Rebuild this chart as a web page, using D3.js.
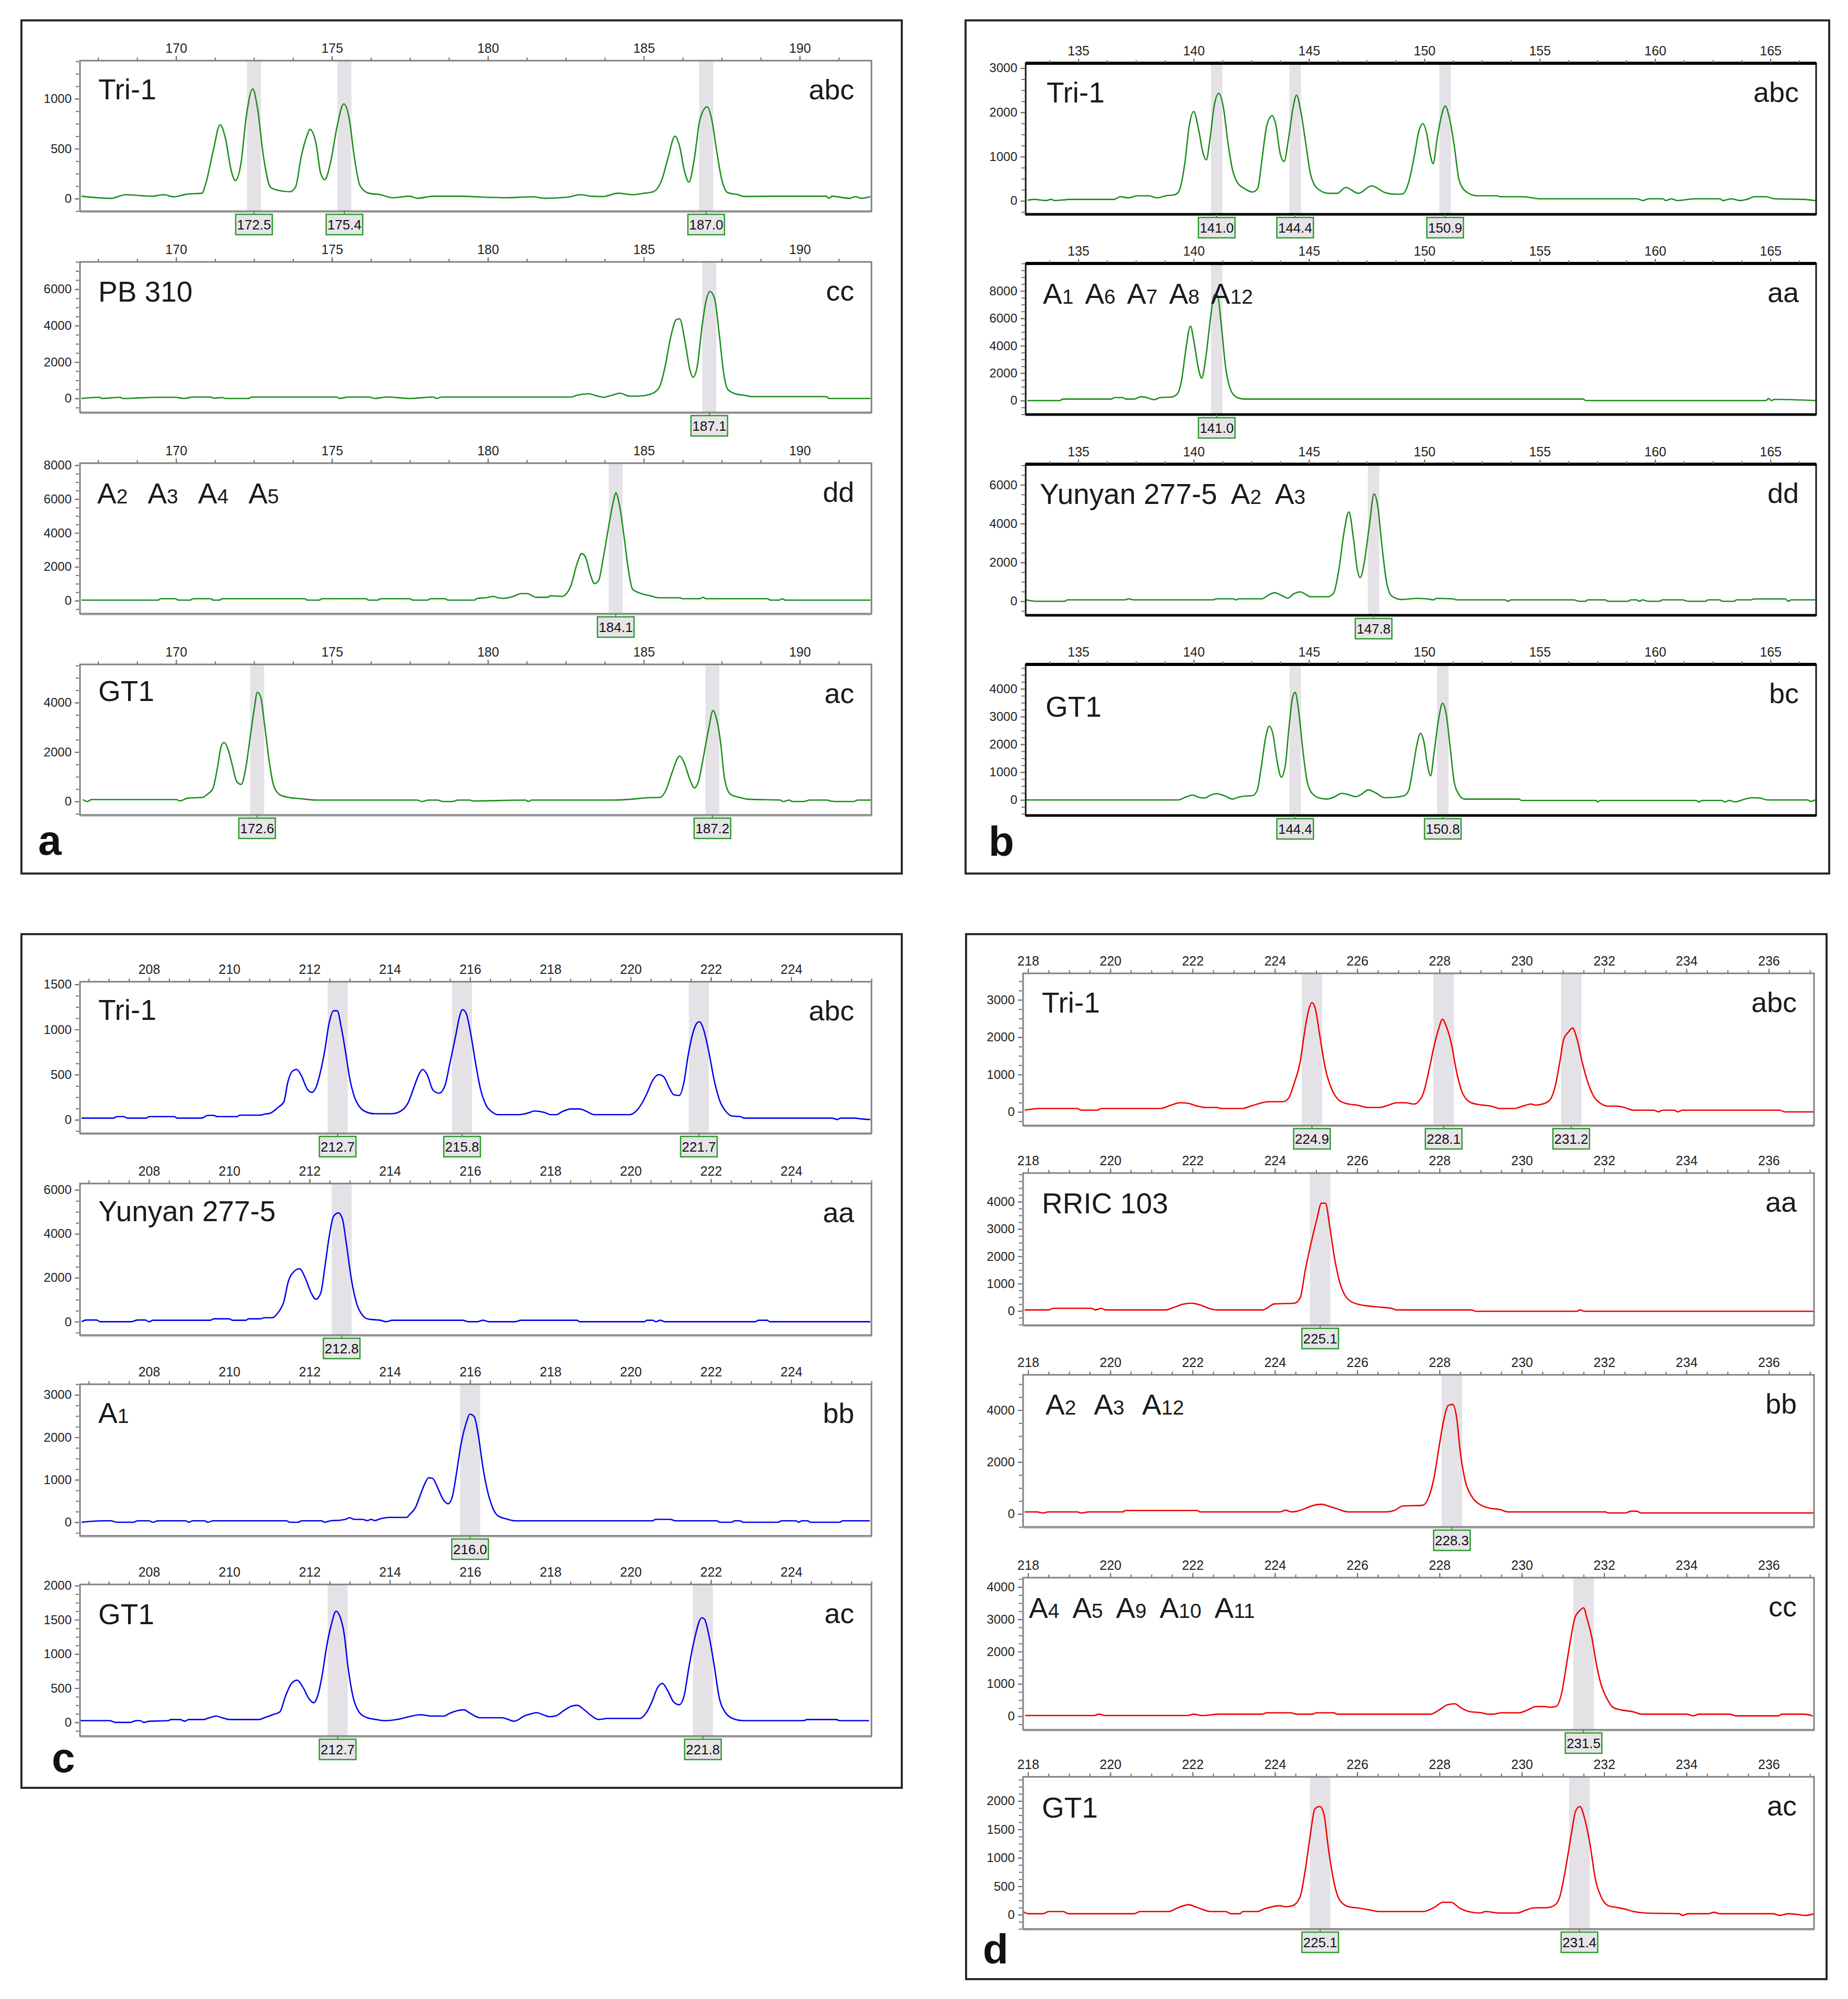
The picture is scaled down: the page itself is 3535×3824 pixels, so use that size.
<!DOCTYPE html>
<html>
<head>
<meta charset="utf-8">
<script src="https://cdn.jsdelivr.net/npm/d3@7"></script>
<style>
  body { margin: 0; background: #fff; }
  text { font-family: "Liberation Sans", Arial, sans-serif; }
</style>
</head>
<body>
<div id="chart"></div>
<script>
// ---------- data: size (bp) / RFU ----------

// panel a
var aSizeTicks = [170, 175, 180, 185, 190];
var aSamples = ["Tri-1", "PB 310", "A2 A3 A4 A5", "GT1"];
var aGenotypes = ["abc", "cc", "dd", "ac"];
var aCalls = [[172.5, 175.4, 187.0], [187.1], [184.1], [172.6, 187.2]];
var aRfuMax = [1000, 6000, 8000, 4000];
var aRfuStep = [500, 2000, 2000, 2000];

var traceA1 = [[166.97,24],[167.91,3],[168.38,39],[169.23,24],[169.61,39],[169.92,18],[170.36,45],[170.83,54],[170.96,159],[171.20,490],[171.41,739],[171.58,610],[171.77,280],[171.90,180],[172.09,370],[172.24,790],[172.46,1099],[172.61,910],[172.80,430],[173.03,114],[173.27,84],[173.65,69],[173.83,114],[174.02,430],[174.21,640],[174.29,694],[174.49,550],[174.64,250],[174.77,190],[174.96,370],[175.15,700],[175.38,949],[175.56,790],[175.71,430],[175.90,130],[176.18,54],[176.56,39],[176.94,9],[177.50,24],[177.73,3],[178.25,24],[179.00,24],[180.51,9],[181.45,18],[181.82,3],[182.58,15],[182.95,39],[183.33,24],[183.70,21],[184.17,54],[184.64,39],[185.02,54],[185.30,69],[185.58,190],[185.77,400],[186.00,625],[186.15,520],[186.30,280],[186.45,165],[186.62,400],[186.80,790],[187.03,919],[187.18,790],[187.33,490],[187.50,190],[187.69,60],[188.03,39],[188.21,21],[189.34,24],[190.85,24],[190.94,3],[191.03,24],[191.60,3],[191.79,21],[191.97,3],[192.27,21]];
var traceA2 = [[166.97,0],[167.54,65],[167.63,0],[168.20,65],[168.29,0],[169.42,65],[169.98,65],[170.26,0],[170.55,80],[171.11,80],[171.20,15],[171.48,50],[171.58,0],[172.33,0],[172.42,80],[175.15,80],[175.24,0],[175.53,80],[176.18,80],[176.37,0],[176.75,80],[177.50,0],[178.25,80],[178.35,0],[178.53,80],[182.67,80],[182.86,180],[183.23,260],[183.52,130],[183.70,65],[183.98,180],[184.23,290],[184.55,130],[184.83,130],[185.21,230],[185.49,590],[185.68,1730],[185.86,3360],[186.05,4340],[186.15,4370],[186.33,3030],[186.48,1560],[186.58,1160],[186.71,1730],[186.86,3850],[186.99,5310],[187.12,5880],[187.27,5480],[187.42,3520],[187.56,1400],[187.69,505],[187.93,260],[188.21,180],[188.50,100],[190.85,100],[190.94,0],[192.27,0]];
var traceA3 = [[166.97,34],[169.42,34],[169.51,118],[169.98,118],[170.08,34],[170.45,34],[170.55,118],[171.11,118],[171.20,34],[171.39,34],[171.48,118],[174.12,118],[174.21,34],[174.59,34],[174.68,118],[176.09,118],[176.18,34],[176.47,34],[176.56,118],[177.50,118],[177.59,34],[178.06,34],[178.16,118],[178.63,118],[178.72,34],[179.57,34],[179.66,135],[179.94,170],[180.19,250],[180.32,170],[180.51,135],[180.79,235],[181.07,420],[181.26,420],[181.54,200],[181.92,200],[182.01,290],[182.39,250],[182.48,340],[182.67,930],[182.86,2190],[183.01,2785],[183.14,2530],[183.29,1520],[183.42,1010],[183.55,1180],[183.70,2530],[183.89,4560],[184.04,5990],[184.10,6380],[184.21,5740],[184.36,3880],[184.49,2025],[184.64,675],[184.92,420],[185.21,290],[185.49,170],[186.15,170],[186.24,118],[186.80,118],[186.90,200],[186.99,118],[188.97,118],[189.06,34],[189.34,34],[189.44,118],[189.53,34],[192.27,34]];
var traceA4 = [[167.01,80],[167.16,0],[167.29,80],[170.02,80],[170.11,23],[170.39,140],[170.86,170],[171.00,290],[171.18,520],[171.33,1380],[171.45,2240],[171.54,2390],[171.65,2180],[171.80,1490],[171.95,800],[172.09,690],[172.24,1380],[172.37,2530],[172.50,3680],[172.61,4420],[172.71,4250],[172.84,3100],[172.99,1610],[173.12,690],[173.31,290],[173.59,170],[173.97,115],[174.53,57],[177.73,57],[177.88,0],[178.10,57],[178.38,57],[178.57,0],[178.85,0],[179.04,57],[179.42,57],[179.51,23],[181.20,57],[181.30,0],[181.39,57],[184.02,57],[184.59,92],[185.06,150],[185.53,170],[185.71,460],[185.90,1150],[186.15,1840],[186.28,1610],[186.47,920],[186.62,550],[186.75,800],[186.90,1720],[187.07,2870],[187.22,3680],[187.31,3450],[187.46,2410],[187.59,920],[187.78,290],[188.06,170],[188.35,92],[189.38,57],[189.47,0],[189.66,57],[189.76,0],[190.13,0],[190.32,57],[190.88,57],[190.98,23],[191.17,0],[191.73,0],[191.86,57],[192.31,57]];

// panel b
var bSizeTicks = [135, 140, 145, 150, 155, 160, 165];
var bSamples = ["Tri-1", "A1 A6 A7 A8 A12", "Yunyan 277-5 A2 A3", "GT1"];
var bGenotypes = ["abc", "aa", "dd", "bc"];
var bCalls = [[141.0, 144.4, 150.9], [141.0], [147.8], [144.4, 150.8]];
var bRfuMax = [3000, 8000, 6000, 4000];
var bRfuStep = [1000, 2000, 2000, 1000];

var traceB1 = [[132.80,14],[133.09,34],[133.59,7],[133.84,34],[133.96,7],[134.70,34],[136.56,34],[136.81,95],[137.18,68],[137.55,115],[138.05,115],[138.42,68],[138.79,115],[139.16,135],[139.36,216],[139.61,825],[139.81,1700],[140.00,2020],[140.23,1570],[140.40,1095],[140.55,925],[140.70,1365],[140.90,2175],[141.09,2430],[141.29,2110],[141.49,1300],[141.69,690],[141.89,420],[142.18,285],[142.56,200],[142.78,285],[142.95,890],[143.17,1700],[143.40,1925],[143.57,1700],[143.74,1095],[143.92,890],[144.12,1430],[144.31,2110],[144.46,2390],[144.66,1975],[144.86,1300],[145.06,620],[145.35,285],[145.85,170],[146.22,170],[146.59,305],[147.14,170],[147.71,340],[148.33,180],[148.77,150],[149.07,160],[149.32,420],[149.57,1030],[149.76,1570],[149.94,1745],[150.11,1500],[150.26,1030],[150.38,840],[150.56,1430],[150.75,1940],[150.90,2145],[151.10,1840],[151.30,1230],[151.50,485],[151.79,216],[152.29,115],[153.16,115],[153.28,95],[154.27,95],[155.02,47],[159.23,47],[159.47,7],[159.72,47],[160.34,47],[160.46,7],[160.71,47],[160.96,7],[161.70,47],[162.82,47],[162.94,7],[163.31,47],[163.68,7],[164.06,47],[164.30,95],[164.80,95],[165.17,47],[166.41,34],[166.95,7]];
var traceB2 = [[132.80,0],[134.21,0],[134.33,110],[136.44,110],[136.56,220],[136.93,220],[137.06,110],[137.43,110],[137.72,280],[138.05,175],[138.29,65],[138.54,220],[139.04,260],[139.29,480],[139.48,1520],[139.66,3700],[139.86,5430],[140.03,4130],[140.20,2390],[140.35,1630],[140.52,3040],[140.72,5870],[140.90,7720],[141.04,7650],[141.19,5650],[141.39,2390],[141.64,650],[141.89,220],[142.18,110],[156.87,110],[157.00,0],[164.80,0],[164.92,150],[165.05,0],[165.17,87],[166.95,0]];
var traceB3 = [[132.74,74],[133.17,0],[134.40,0],[134.53,74],[137.01,74],[137.18,130],[137.38,74],[140.85,74],[140.98,130],[141.72,130],[141.84,74],[141.97,130],[142.96,130],[143.21,295],[143.50,440],[143.83,295],[144.08,160],[144.32,370],[144.62,485],[144.94,295],[145.07,235],[145.81,235],[146.06,410],[146.31,1735],[146.51,3500],[146.73,4600],[146.93,3200],[147.10,1590],[147.22,1220],[147.42,2180],[147.62,3940],[147.82,5530],[147.97,4970],[148.17,2765],[148.36,1000],[148.59,265],[149.03,90],[149.65,150],[150.15,120],[150.40,74],[150.52,150],[151.27,120],[151.39,74],[153.50,74],[153.62,0],[153.75,74],[156.47,74],[156.72,0],[156.97,0],[157.09,74],[157.84,74],[157.96,0],[158.83,0],[158.95,74],[159.20,74],[159.32,0],[159.45,74],[159.70,0],[160.19,0],[160.32,74],[161.18,74],[161.43,0],[162.18,0],[162.30,74],[162.80,74],[162.92,0],[163.42,0],[163.54,74],[164.16,74],[164.28,120],[165.65,120],[165.77,0],[165.90,74],[166.94,74]];
var traceB4 = [[132.72,0],[139.34,0],[139.59,80],[139.96,175],[140.21,100],[140.45,70],[140.75,175],[141.00,225],[141.32,155],[141.69,30],[141.94,100],[142.19,135],[142.56,155],[142.76,360],[142.93,1180],[143.11,2200],[143.28,2660],[143.43,2400],[143.60,1480],[143.80,820],[143.98,1280],[144.12,2500],[144.30,3730],[144.40,3870],[144.55,3220],[144.72,1890],[144.92,665],[145.17,205],[145.54,50],[145.79,30],[146.08,100],[146.41,235],[146.65,205],[147.03,120],[147.27,205],[147.57,360],[147.89,255],[148.27,80],[148.76,100],[149.13,155],[149.33,360],[149.51,1180],[149.68,2000],[149.83,2400],[149.98,2100],[150.13,1280],[150.27,870],[150.42,1690],[150.62,2920],[150.79,3480],[150.94,3120],[151.12,1890],[151.29,665],[151.49,205],[151.74,30],[154.09,30],[154.22,-20],[157.44,-20],[157.51,-70],[157.61,-20],[161.78,-20],[161.90,-70],[162.03,-20],[162.89,-20],[163.02,-70],[163.22,-20],[163.46,-70],[163.89,30],[164.21,80],[164.51,70],[164.88,0],[166.61,0],[166.74,-50],[166.94,0]];

// panel c
var cSizeTicks = [208, 210, 212, 214, 216, 218, 220, 222, 224];
var cSamples = ["Tri-1", "Yunyan 277-5", "A1", "GT1"];
var cGenotypes = ["abc", "aa", "bb", "ac"];
var cCalls = [[212.7, 215.8, 221.7], [212.8], [216.0], [212.7, 221.8]];
var cRfuMax = [1500, 6000, 3000, 2000];
var cRfuStep = [500, 2000, 1000, 500];

var traceC1 = [[206.32,19],[207.12,19],[207.20,35],[207.37,35],[207.46,19],[207.93,19],[208.00,35],[208.63,35],[208.70,19],[209.31,19],[209.46,48],[209.61,48],[209.71,35],[210.19,35],[210.26,51],[210.77,51],[210.88,63],[211.02,73],[211.21,136],[211.36,200],[211.46,420],[211.58,542],[211.68,558],[211.80,485],[211.94,342],[212.06,304],[212.16,358],[212.28,548],[212.38,770],[212.48,1055],[212.60,1208],[212.69,1208],[212.79,1024],[212.89,770],[212.99,485],[213.11,263],[213.26,136],[213.40,89],[213.62,67],[214.06,67],[214.28,98],[214.45,184],[214.60,358],[214.72,500],[214.82,558],[214.93,500],[215.08,326],[215.23,295],[215.37,374],[215.49,612],[215.64,929],[215.74,1150],[215.81,1220],[215.90,1182],[216.00,992],[216.13,644],[216.25,358],[216.39,168],[216.54,89],[216.69,57],[217.20,57],[217.49,82],[217.59,98],[217.85,82],[218.00,57],[218.15,57],[218.29,89],[218.51,120],[218.73,120],[218.88,98],[219.09,57],[219.97,57],[220.12,89],[220.26,168],[220.41,295],[220.55,437],[220.70,500],[220.82,479],[220.96,358],[221.07,279],[221.21,270],[221.33,421],[221.43,707],[221.55,960],[221.65,1071],[221.72,1087],[221.80,1024],[221.94,770],[222.09,421],[222.23,200],[222.38,89],[222.53,41],[222.74,35],[222.82,19],[225.01,19],[225.15,3],[225.23,19],[225.59,19],[225.74,10],[225.97,3]];
var traceC2 = [[206.32,0],[206.44,78],[206.69,78],[206.79,0],[207.56,0],[207.71,78],[207.90,78],[208.00,0],[208.10,65],[209.53,65],[209.61,130],[210.00,130],[210.09,65],[210.41,65],[210.48,130],[210.77,130],[210.88,180],[211.07,180],[211.21,400],[211.36,920],[211.47,1825],[211.61,2280],[211.75,2410],[211.90,1955],[212.04,1310],[212.16,1020],[212.28,1310],[212.38,2470],[212.48,3765],[212.60,4800],[212.72,4955],[212.82,4670],[212.92,3505],[213.04,1955],[213.18,790],[213.33,270],[213.47,115],[213.77,65],[213.91,0],[214.06,65],[215.81,65],[215.96,0],[216.18,0],[216.32,65],[216.47,0],[217.12,0],[217.27,65],[218.66,65],[218.73,0],[220.34,0],[220.41,65],[220.55,65],[220.63,0],[220.74,65],[220.85,0],[223.11,0],[223.18,65],[223.40,65],[223.47,0],[225.97,0]];
var traceC3 = [[206.32,0],[206.83,34],[207.05,34],[207.20,0],[207.61,0],[207.71,34],[208.00,34],[208.10,0],[208.22,34],[208.92,34],[208.98,0],[209.09,34],[209.39,34],[209.46,0],[209.60,34],[211.43,34],[211.50,0],[211.72,0],[211.79,34],[212.30,34],[212.38,0],[212.52,34],[212.74,47],[212.89,67],[213.00,107],[213.11,67],[213.32,67],[213.44,40],[213.54,67],[213.62,40],[213.76,80],[213.98,114],[214.42,114],[214.49,180],[214.64,350],[214.75,615],[214.86,885],[214.97,1050],[215.07,1030],[215.19,817],[215.32,550],[215.45,435],[215.56,615],[215.66,1150],[215.77,1820],[215.91,2360],[215.99,2545],[216.10,2490],[216.21,2020],[216.31,1350],[216.43,750],[216.56,350],[216.68,160],[216.90,80],[217.12,34],[220.54,34],[220.62,67],[220.98,67],[221.13,34],[222.15,34],[222.22,0],[222.51,0],[222.59,34],[222.73,34],[222.80,0],[223.68,0],[223.75,34],[224.12,34],[224.19,0],[224.26,34],[224.41,34],[224.48,0],[225.21,0],[225.28,34],[225.96,34]];
var traceC4 = [[206.29,25],[207.02,25],[207.17,0],[207.53,0],[207.68,25],[207.78,25],[207.87,0],[208.01,17],[208.48,25],[208.55,42],[208.77,42],[208.89,17],[208.99,42],[209.36,42],[209.50,67],[209.68,92],[209.80,71],[210.01,42],[210.74,42],[210.89,71],[211.08,112],[211.26,154],[211.40,383],[211.55,570],[211.69,617],[211.84,508],[211.99,342],[212.10,287],[212.20,383],[212.31,675],[212.42,1092],[212.54,1425],[212.66,1625],[212.74,1571],[212.86,1300],[212.96,800],[213.08,383],[213.23,154],[213.42,71],[213.66,42],[213.88,25],[214.18,42],[214.39,71],[214.76,112],[215.05,92],[215.34,92],[215.49,133],[215.71,175],[215.85,183],[216.00,133],[216.25,67],[216.80,67],[216.95,42],[217.09,17],[217.21,42],[217.34,92],[217.50,121],[217.65,142],[217.82,112],[217.97,83],[218.12,92],[218.34,175],[218.53,238],[218.67,250],[218.82,196],[218.99,112],[219.21,42],[219.43,58],[220.23,58],[220.38,133],[220.53,300],[220.67,508],[220.79,570],[220.92,467],[221.07,300],[221.21,258],[221.33,383],[221.45,800],[221.59,1217],[221.77,1530],[221.84,1510],[221.94,1300],[222.09,800],[222.20,383],[222.35,154],[222.57,50],[222.79,25],[224.32,25],[224.39,42],[225.12,42],[225.21,25],[225.94,25]];

// panel d
var dSizeTicks = [218, 220, 222, 224, 226, 228, 230, 232, 234, 236];
var dSamples = ["Tri-1", "RRIC 103", "A2 A3 A12", "A4 A5 A9 A10 A11", "GT1"];
var dGenotypes = ["abc", "aa", "bb", "cc", "ac"];
var dCalls = [[224.9, 228.1, 231.2], [225.1], [228.3], [231.5], [225.1, 231.4]];
var dRfuMax = [3000, 4000, 4000, 4000, 2000];
var dRfuStep = [1000, 1000, 2000, 1000, 500];

var traceD1 = [[217.92,45],[218.29,91],[219.19,91],[219.30,45],[219.68,45],[219.78,91],[221.21,91],[221.48,182],[221.69,245],[221.90,227],[222.11,155],[222.32,118],[222.59,118],[222.69,91],[223.22,91],[223.36,136],[223.63,227],[223.84,273],[224.19,273],[224.33,364],[224.47,773],[224.61,1318],[224.72,2136],[224.81,2682],[224.90,2927],[224.98,2773],[225.09,2045],[225.23,1136],[225.37,636],[225.51,364],[225.72,227],[225.99,182],[226.27,118],[226.55,118],[226.76,182],[226.96,245],[227.17,245],[227.38,209],[227.59,455],[227.73,1045],[227.87,1773],[227.98,2227],[228.07,2482],[228.17,2273],[228.28,1864],[228.42,1045],[228.56,500],[228.77,245],[229.05,182],[229.25,155],[229.46,91],[229.81,91],[230.02,155],[230.23,209],[230.32,182],[230.50,209],[230.68,318],[230.81,682],[230.92,1318],[231.02,1955],[231.13,2136],[231.23,2245],[231.34,1955],[231.47,1318],[231.61,773],[231.75,409],[231.89,245],[232.10,155],[232.31,155],[232.49,118],[232.72,45],[233.21,45],[233.32,0],[233.42,45],[233.70,45],[233.79,0],[233.90,45],[236.26,45],[236.40,0],[237.10,0]];
var traceD2 = [[217.92,37],[218.50,37],[218.61,98],[219.54,98],[219.64,37],[219.78,98],[219.89,37],[221.34,37],[221.55,135],[221.76,246],[221.97,283],[222.18,222],[222.39,98],[222.59,37],[223.70,37],[223.84,135],[223.98,258],[224.47,283],[224.61,468],[224.74,1514],[224.88,2500],[225.02,3360],[225.13,3950],[225.23,3940],[225.33,3115],[225.44,2006],[225.58,1022],[225.72,530],[225.85,345],[226.02,246],[226.41,160],[226.83,98],[226.96,37],[228.77,37],[228.88,-12],[231.34,-12],[231.41,37],[231.52,-12],[237.10,-12]];
var traceD3 = [[217.92,80],[218.22,80],[218.36,40],[218.50,80],[219.19,80],[219.30,40],[219.47,80],[220.30,80],[220.37,133],[222.11,133],[222.18,80],[224.12,80],[224.26,147],[224.40,80],[224.54,107],[224.74,213],[224.88,307],[225.13,373],[225.30,307],[225.51,200],[225.79,80],[226.69,80],[226.90,133],[227.10,307],[227.59,333],[227.73,620],[227.86,1350],[227.98,2500],[228.10,3600],[228.21,4180],[228.32,4220],[228.42,3660],[228.50,2450],[228.63,1240],[228.77,707],[228.91,440],[229.05,307],[229.25,213],[229.46,173],[229.67,80],[232.03,80],[232.10,40],[232.52,40],[232.65,107],[232.79,107],[232.90,40],[237.10,40]];
var traceD4 = [[217.93,21],[219.60,21],[219.73,64],[219.87,21],[221.88,21],[222.02,64],[222.23,21],[222.65,64],[223.69,64],[223.80,107],[224.38,107],[224.52,64],[224.93,64],[225.00,107],[225.42,107],[225.52,64],[227.78,64],[227.99,193],[228.19,354],[228.37,386],[228.54,247],[228.75,139],[229.03,107],[229.17,64],[229.30,64],[229.51,107],[229.93,107],[230.14,193],[230.34,300],[230.55,300],[230.69,279],[230.83,300],[230.97,729],[231.07,1480],[231.18,2340],[231.29,3050],[231.40,3260],[231.50,3355],[231.59,3000],[231.70,2445],[231.80,1695],[231.91,1050],[232.08,515],[232.22,268],[232.42,193],[232.70,139],[232.91,64],[234.02,64],[234.16,11],[234.30,64],[235.06,64],[235.20,11],[236.24,11],[236.31,64],[236.86,64],[237.07,11]];
var traceD5 = [[217.88,55],[218.01,18],[218.36,18],[218.50,55],[218.85,55],[218.99,18],[220.58,18],[220.72,55],[221.41,55],[221.62,116],[221.90,176],[222.11,128],[222.45,55],[222.80,55],[222.94,18],[223.15,18],[223.22,55],[223.56,55],[223.77,110],[224.12,158],[224.26,140],[224.43,158],[224.61,310],[224.74,796],[224.86,1405],[224.97,1860],[225.09,1903],[225.19,1770],[225.30,1160],[225.44,553],[225.58,250],[225.79,140],[226.06,116],[226.34,79],[226.55,55],[227.59,55],[227.87,128],[228.08,219],[228.28,219],[228.49,116],[228.70,55],[228.98,30],[229.12,55],[229.46,30],[229.88,30],[230.09,79],[230.30,122],[230.57,122],[230.78,158],[230.92,310],[231.06,796],[231.20,1405],[231.31,1830],[231.41,1903],[231.52,1708],[231.66,1222],[231.79,614],[231.93,310],[232.10,158],[232.31,128],[232.52,97],[232.72,55],[233.00,30],[233.83,18],[233.90,-12],[234.04,18],[234.53,18],[234.67,43],[234.81,18],[236.12,18],[236.26,-12],[236.47,18],[236.68,6],[236.89,-12],[237.10,18]];

// ---------- layout ----------
var W = 3535, H = 3824;

var panels = [
  { letter: "a", box: [41, 39, 1684, 1632], letterPos: [73, 1635],
    x0: 153, x1: 1667, dom: [166.92, 192.3], tops: [116, 501, 886, 1271], h: 288,
    yDom: [[-126, 1382], [-767, 7500], [-770, 8123], [-544, 5545]],
    ticks: aSizeTicks, tickStep: 5, samples: aSamples, genotypes: aGenotypes, calls: aCalls,
    rfuMax: aRfuMax, rfuStep: aRfuStep, traces: [traceA1, traceA2, traceA3, traceA4],
    color: "#1b8d1b", frame: "gray", binW: 0.45,
    nameDx: [35, 35, 33, 35], nameDy: [74, 76, 77, 70], nameGap: [0, 0, 38, 0] },
  { letter: "b", box: [1847, 39, 1652, 1632], letterPos: [1891, 1637],
    x0: 1962, x1: 3474, dom: [132.72, 166.98], tops: [121, 504, 888, 1271], h: 289,
    yDom: [[-304, 3110], [-1020, 10000], [-720, 7060], [-560, 4880]],
    ticks: bSizeTicks, tickStep: 5, samples: bSamples, genotypes: bGenotypes, calls: bCalls,
    rfuMax: bRfuMax, rfuStep: bRfuStep, traces: [traceB1, traceB2, traceB3, traceB4],
    color: "#1b8d1b", frame: "black", binW: 0.5,
    nameDx: [40, 33, 27, 38], nameDy: [75, 77, 76, 100], nameGap: [0, 22, 26, 0] },
  { letter: "c", box: [41, 1787, 1684, 1633], letterPos: [99, 3390],
    x0: 153, x1: 1667, dom: [206.28, 226.0], tops: [1878, 2264, 2648, 3031], h: 290,
    yDom: [[-150, 1530], [-610, 6290], [-320, 3250], [-200, 2017]],
    ticks: cSizeTicks, tickStep: 2, samples: cSamples, genotypes: cGenotypes, calls: cCalls,
    rfuMax: cRfuMax, rfuStep: cRfuStep, traces: [traceC1, traceC2, traceC3, traceC4],
    color: "#0000f0", frame: "gray", binW: 0.5,
    nameDx: [35, 35, 35, 35], nameDy: [73, 72, 74, 76], nameGap: [0, 0, 0, 0] },
  { letter: "d", box: [1848, 1787, 1646, 1999], letterPos: [1880, 3756],
    x0: 1957, x1: 3470, dom: [217.88, 237.10], tops: [1862, 2244, 2630, 3018, 3399], h: 291,
    yDom: [[-364, 3710], [-520, 5050], [-500, 5360], [-420, 4290], [-250, 2425]],
    ticks: dSizeTicks, tickStep: 2, samples: dSamples, genotypes: dGenotypes, calls: dCalls,
    rfuMax: dRfuMax, rfuStep: dRfuStep, traces: [traceD1, traceD2, traceD3, traceD4, traceD5],
    color: "#f00000", frame: "gray", binW: 0.5,
    nameDx: [36, 36, 43, 11, 36], nameDy: [75, 77, 76, 77, 78], nameGap: [0, 0, 34, 25, 0] }
];

var svg = d3.select("#chart").append("svg")
  .attr("width", W).attr("height", H)
  .style("background", "#fff");

var defs = svg.append("defs");
var clipId = 0;

function minorValues(dom, step) {
  var m = step / 4, out = [];
  for (var v = Math.ceil(dom[0] / m) * m; v <= dom[1] + 1e-9; v += m) out.push(+v.toFixed(4));
  return out;
}

function styleAxis(g, fontSize) {
  g.select(".domain").remove();
  g.selectAll(".tick line").attr("stroke", "#6e6e6e").attr("stroke-width", 2);
  g.selectAll(".tick text").style("font-size", fontSize + "px").attr("fill", "#222");
}

// sample name: allele tokens like "A12" get a smaller number
function drawSampleName(g, label, x, y, gap) {
  var t = g.append("text").attr("x", x).attr("y", y)
    .style("font-size", "55px").attr("fill", "#1a1a1a");
  var plain = [];
  var first = true;
  label.split(" ").forEach(function(w) {
    var m = w.match(/^A(\d+)$/);
    if (m) {
      if (plain.length) {
        t.append("tspan").text(plain.join(" "));
        plain = []; first = false;
      }
      t.append("tspan").attr("dx", first ? 0 : gap).text("A");
      t.append("tspan").style("font-size", "39px").text(m[1]);
      first = false;
    } else {
      plain.push(w);
    }
  });
  if (plain.length) t.append("tspan").text(plain.join(" "));
}

function drawPlot(P, i) {
  var top = P.tops[i], bottom = top + P.h;
  var x = d3.scaleLinear().domain(P.dom).range([P.x0, P.x1]);
  var y = d3.scaleLinear().domain(P.yDom[i]).range([bottom, top]);
  var g = svg.append("g");

  // allele bins
  g.selectAll("rect.bin").data(P.calls[i]).enter().append("rect")
    .attr("class", "bin")
    .attr("x", function(d) { return x(d - P.binW / 2); })
    .attr("y", top)
    .attr("width", function(d) { return x(d + P.binW / 2) - x(d - P.binW / 2); })
    .attr("height", P.h)
    .attr("fill", "#e5e2e7");

  // trace
  var cid = "clip" + (clipId++);
  defs.append("clipPath").attr("id", cid).append("rect")
    .attr("x", P.x0).attr("y", top).attr("width", P.x1 - P.x0).attr("height", P.h);
  var line = d3.line()
    .x(function(d) { return x(d[0]); })
    .y(function(d) { return y(d[1]); })
    .curve(d3.curveMonotoneX);
  g.append("path").datum(P.traces[i])
    .attr("clip-path", "url(#" + cid + ")")
    .attr("d", line)
    .attr("fill", "none")
    .attr("stroke", P.color)
    .attr("stroke-width", 2.6)
    .attr("stroke-linejoin", "round");

  // frame
  if (P.frame === "black") {
    g.append("rect").attr("x", P.x0).attr("y", top).attr("width", P.x1 - P.x0).attr("height", P.h)
      .attr("fill", "none").attr("stroke", "#111").attr("stroke-width", 3);
    g.append("line").attr("x1", P.x0).attr("x2", P.x1).attr("y1", top).attr("y2", top)
      .attr("stroke", "#000").attr("stroke-width", 6);
    g.append("line").attr("x1", P.x0).attr("x2", P.x1).attr("y1", bottom).attr("y2", bottom)
      .attr("stroke", "#000").attr("stroke-width", 5);
  } else {
    g.append("rect").attr("x", P.x0).attr("y", top).attr("width", P.x1 - P.x0).attr("height", P.h)
      .attr("fill", "none").attr("stroke", "#808080").attr("stroke-width", 3);
    g.append("line").attr("x1", P.x0).attr("x2", P.x1).attr("y1", bottom + 2).attr("y2", bottom + 2)
      .attr("stroke", "#b0b0b0").attr("stroke-width", 2);
  }

  // top size axis
  var minorX = g.append("g").attr("transform", "translate(0," + (top - 1) + ")")
    .call(d3.axisTop(x).tickValues(minorValues(P.dom, P.tickStep)).tickSize(5).tickFormat(""));
  styleAxis(minorX, 25);
  var majorX = g.append("g").attr("transform", "translate(0," + (top - 1) + ")")
    .call(d3.axisTop(x).tickValues(P.ticks).tickSize(8).tickPadding(6).tickFormat(d3.format("d")));
  styleAxis(majorX, 25);

  // left RFU axis
  var yd = P.yDom[i];
  var minorY = g.append("g").attr("transform", "translate(" + (P.x0 - 2) + ",0)")
    .call(d3.axisLeft(y).tickValues(minorValues(yd, P.rfuStep[i])).tickSize(6).tickFormat(""));
  styleAxis(minorY, 24);
  var majorY = g.append("g").attr("transform", "translate(" + (P.x0 - 2) + ",0)")
    .call(d3.axisLeft(y).tickValues(d3.range(0, P.rfuMax[i] + 1, P.rfuStep[i])).tickSize(8).tickPadding(6).tickFormat(d3.format("d")));
  styleAxis(majorY, 24);

  // called allele size boxes
  var boxes = g.selectAll("g.call").data(P.calls[i]).enter().append("g")
    .attr("class", "call")
    .attr("transform", function(d) { return "translate(" + x(d) + "," + bottom + ")"; });
  boxes.append("line").attr("x1", 0).attr("x2", 0).attr("y1", 0).attr("y2", 7)
    .attr("stroke", "#2c9a2c").attr("stroke-width", 2);
  boxes.append("rect").attr("x", -35).attr("y", 6).attr("width", 70).attr("height", 39)
    .attr("fill", "#e7e5e9").attr("stroke", "#2c9a2c").attr("stroke-width", 2.5);
  boxes.append("text").attr("x", 0).attr("y", 35)
    .attr("text-anchor", "middle").style("font-size", "26px").attr("fill", "#111")
    .text(function(d) { return d3.format(".1f")(d); });

  // sample name and genotype
  drawSampleName(g, P.samples[i], P.x0 + P.nameDx[i], top + P.nameDy[i], P.nameGap[i]);
  g.append("text").attr("x", P.x1 - 33).attr("y", top + 74)
    .attr("text-anchor", "end").style("font-size", "54px").attr("fill", "#1a1a1a")
    .text(P.genotypes[i]);
}

panels.forEach(function(P) {
  svg.append("rect")
    .attr("x", P.box[0]).attr("y", P.box[1]).attr("width", P.box[2]).attr("height", P.box[3])
    .attr("fill", "none").attr("stroke", "#2a2a2a").attr("stroke-width", 4);
  P.traces.forEach(function(t, i) { drawPlot(P, i); });
  svg.append("text").attr("x", P.letterPos[0]).attr("y", P.letterPos[1])
    .style("font-size", "80px").style("font-weight", "bold").attr("fill", "#111")
    .text(P.letter);
});
</script>
</body>
</html>
